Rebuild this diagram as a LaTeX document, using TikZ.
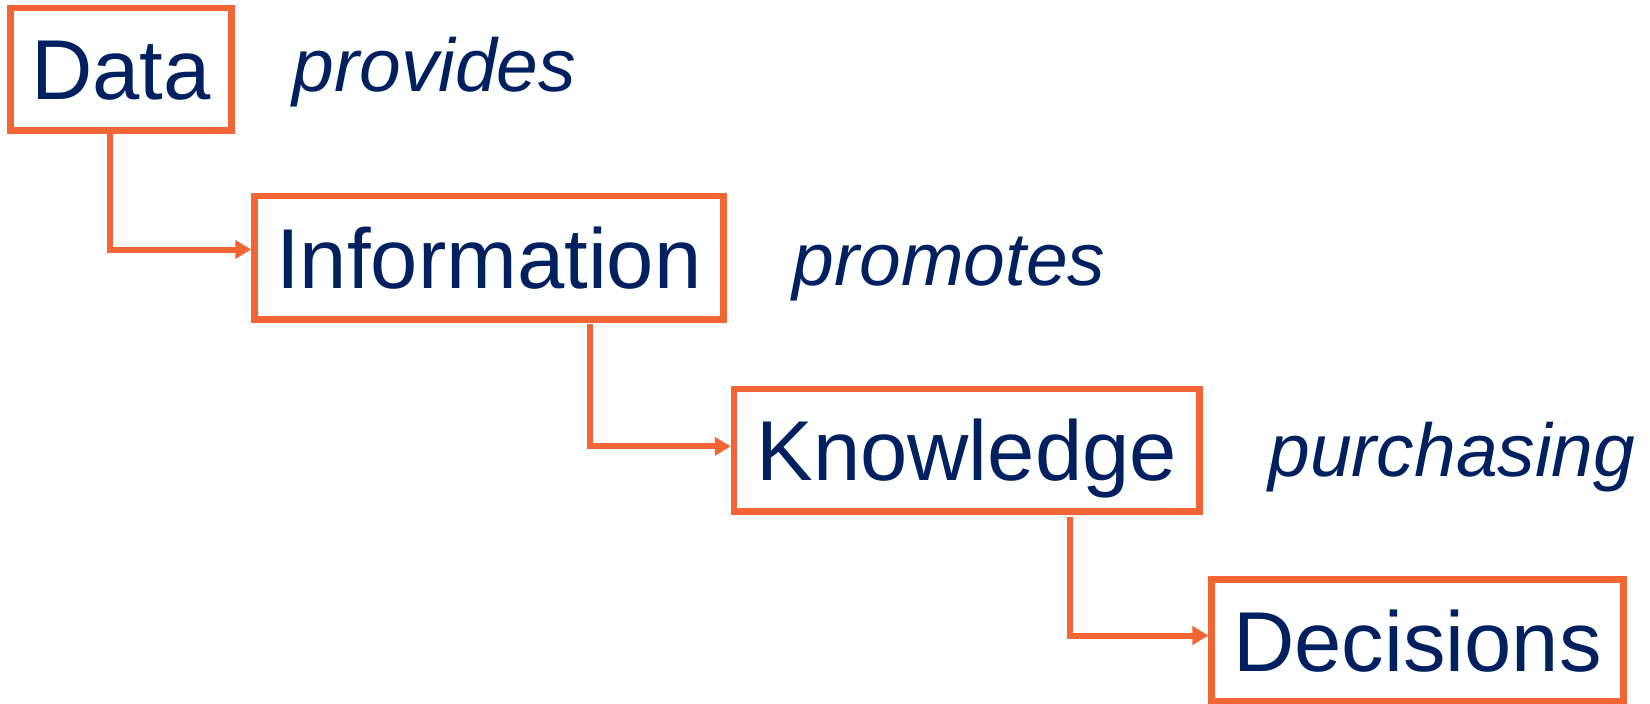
\documentclass[tikz,border=0pt]{standalone}
\usepackage{fontspec}
\setmainfont{Liberation Sans}
\usetikzlibrary{arrows.meta}
\definecolor{navy}{RGB}{0,32,96}
\definecolor{orng}{RGB}{242,101,52}
\begin{document}
\begin{tikzpicture}[x=1pt,y=-1pt,
  box/.style={draw=orng, line width=6.5pt, inner sep=0pt, text=navy,
    font=\fontsize{85}{90}\selectfont, text height=61pt, text depth=0pt},
  lbl/.style={text=navy, font=\fontsize{75}{80}\selectfont\itshape, inner sep=0pt, anchor=base},
  conn/.style={draw=orng, line width=6pt, -{Triangle[length=16pt,width=18pt]}}]
\useasboundingbox[fill=white] (0,0) rectangle (1650,704);

\node[box, minimum width=221.2pt, minimum height=122.7pt] (data) at (121.1,69.35) {Data};
\node[box, minimum width=468.8pt, minimum height=123.3pt] (info) at (488.9,257.65) {Information};
\node[box, minimum width=465.3pt, minimum height=122.7pt] (know) at (966.65,450.35) {Knowledge};
\node[box, minimum width=411.6pt, minimum height=122pt] (dec) at (1417.5,640.5) {Decisions};

\node[lbl] (provides) at (434.5,91.7) {provides};
\node[lbl] (promotes) at (949,285) {promotes};
\node[lbl] (purchasing) at (1452,476.7) {purchasing};

\draw[conn] ([xshift=-11pt]data.south) |- ([yshift=8.15pt]info.west);
\draw[conn] ([xshift=101.1pt,yshift=-1.5pt]info.south) |- ([yshift=4pt]know.west);
\draw[conn] ([xshift=103.35pt,yshift=-2pt]know.south) |- ([yshift=5pt]dec.west);
\end{tikzpicture}
\end{document}
